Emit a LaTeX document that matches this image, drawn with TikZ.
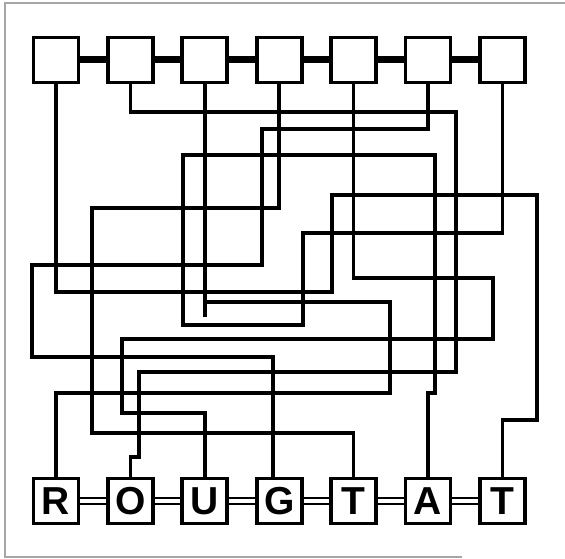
\documentclass[tikz,border=0pt]{standalone}
\usepackage{fontspec}
\newfontfamily\letterfont{Liberation Sans}
\begin{document}
\begin{tikzpicture}[x=1pt,y=-1pt,
  box/.style={draw,line width=3.8pt,minimum size=45pt,inner sep=0pt},
  wire/.style={line width=3.6pt},
  bar/.style={line width=7pt},
  link/.style={double,line width=2.4pt,double distance=3.5pt}]
\useasboundingbox (0,0) rectangle (565,559);
\draw[gray!70,line width=1.2pt] (565,3) -- (5,3) -- (5,557) -- (462,557);
% top row and letter row
\foreach \i in {1,...,7}
  \node[box] (t\i) at ({56+74.4*(\i-1)},60) {};
\foreach \i/\c in {1/R,2/O,3/U,4/G,5/T,6/A,7/T}
  \node[box,font=\letterfont\bfseries\fontsize{39}{39}\selectfont] (l\i) at ({56+74.4*(\i-1)},501) {\c};
\foreach \i [count=\j from 2] in {1,...,6}{
  \draw[bar] (t\i) -- (t\j);
  \draw[link] (l\i) -- (l\j);
}
% the tangled wires
\draw[wire] (t1.south) |- (332,292) |- (537,195) |- (l7.north |- 0,420) -- (l7.north);
\draw[wire] (t2.south) |- (456,112) -- (456,372) -- (139,372) -- (139,457) -| (l2.north);
\draw[wire] (t3.south) |- (390,302) -- (390,393) -| (l1.north);
\draw[wire] (t3.south) -- (t3.south |- 0,317);
\draw[wire] (t4.south) |- (92,208) -- (92,433) -| (l5.north);
\draw[wire] (t5.south) |- (493,278) -- (493,339) -- (122,339) -- (122,413) -| (l3.north);
\draw[wire] (t6.south) |- (262,129) -- (262,265) -- (32,265) -- (32,357) -| ([xshift=-6pt]l4.north);
\draw[wire] (t7.south) |- (303,233) -- (303,325) -- (183,325) -- (183,155) -- (435,155) -- (435,393) -| (l6.north);
\end{tikzpicture}
\end{document}
